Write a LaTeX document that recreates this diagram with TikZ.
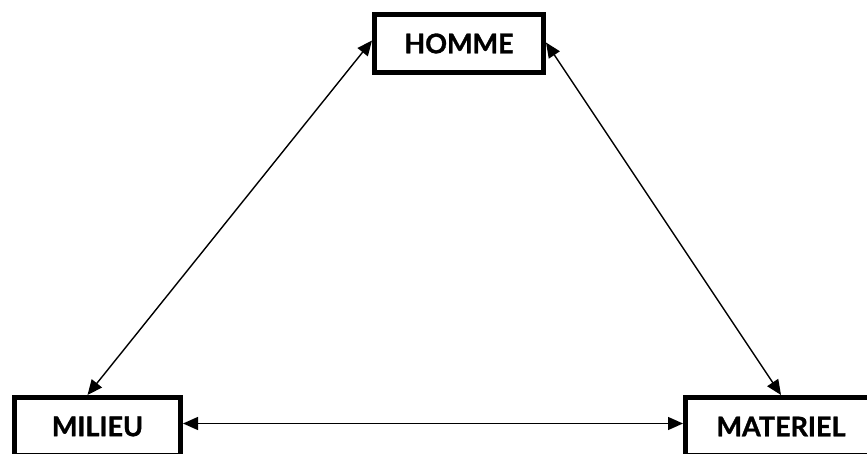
\documentclass[tikz,border=0pt]{standalone}
\usepackage{fontspec}
\setmainfont{Lato}[BoldFeatures={FakeBold=1.2}]
\usetikzlibrary{arrows.meta,positioning}

\begin{document}
\begin{tikzpicture}[x=1pt,y=1pt,font=\fontsize{27}{32}\selectfont\bfseries,
  >={Triangle[length=15pt,width=13pt]},
  pole/.style={draw,line width=5pt,minimum height=58pt,inner sep=0pt},
  link/.style={<->,line width=1.4pt}]
\clip (0,0) rectangle (867,453);
\useasboundingbox (0,0) rectangle (867,453);
\node[pole,minimum width=169pt] (homme) at (459,409.5) {HOMME};
\node[pole,minimum width=166pt] (milieu) at (97.5,26.5) {MILIEU};
\node[pole,minimum width=191pt] (materiel) at (781,26.5) {MATERIEL};
\draw[link] ([yshift=3pt]homme.west) -- ([xshift=-10pt]milieu.north);
\draw[link] ([yshift=1pt]homme.east) -- (materiel.north);
\draw[link] ([yshift=3pt]milieu.east) -- ([yshift=3pt]materiel.west);
\end{tikzpicture}
\end{document}
